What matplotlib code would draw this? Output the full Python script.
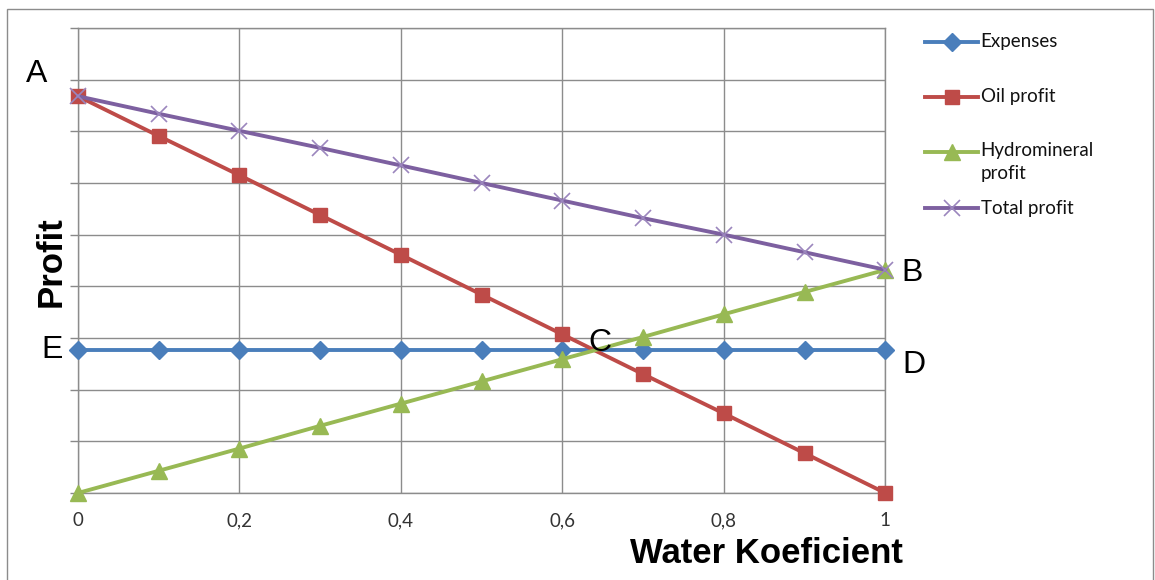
import matplotlib.pyplot as plt
from matplotlib.lines import Line2D
from matplotlib.patches import Rectangle

# water coefficient steps
water_k = [0, 0.1, 0.2, 0.3, 0.4, 0.5, 0.6, 0.7, 0.8, 0.9, 1.0]

# profit values (grid units)
expenses = [2.77] * 11
oil_profit = [7.68, 6.91, 6.15, 5.38, 4.61, 3.84, 3.07, 2.30, 1.54, 0.77, 0.0]
hydro_profit = [0.0, 0.43, 0.86, 1.30, 1.73, 2.16, 2.59, 3.02, 3.46, 3.89, 4.32]
total_profit = [7.68, 7.34, 7.01, 6.68, 6.34, 6.00, 5.66, 5.32, 5.00, 4.66, 4.32]

x_ticks = [0, 0.2, 0.4, 0.6, 0.8, 1.0]
x_tick_labels = ['0', '0,2', '0,4', '0,6', '0,8', '1']

series = [
    ('Expenses', expenses, '#4a7ebb', 'D', 9),
    ('Oil profit', oil_profit, '#be4b48', 's', 10),
    ('Hydromineral\nprofit', hydro_profit, '#98b954', '^', 11),
    ('Total profit', total_profit, '#7d60a0', 'x', 11),
]

# point labels
point_names = ['A', 'B', 'C', 'D', 'E']
point_x = [-0.051, 1.033, 0.646, 1.035, -0.032]
point_y = [8.11, 4.26, 2.9, 2.48, 2.77]

fig = plt.figure(figsize=(11.55, 5.8), dpi=100)
ax = fig.add_axes([0.0675, 0.15, 0.699, 0.8017])

for name, vals, color, marker, ms in series:
    if marker == 'x':
        ax.plot(water_k, vals, color=color, lw=2.8, marker=marker, ms=ms,
                mew=1.2, mec='#9b86bd', zorder=3, clip_on=False)
    else:
        ax.plot(water_k, vals, color=color, lw=2.8, marker=marker, ms=ms,
                mec=color, zorder=3, clip_on=False)

ax.set_xlim(0, 1)
ax.set_ylim(0, 9)
ax.set_xticks(x_ticks)
ax.set_xticklabels(x_tick_labels, fontsize=13.5, family='Lato', color='#333333')
ax.set_yticks(range(10))
ax.set_yticklabels([])
ax.tick_params(axis='x', length=0, pad=14)
ax.tick_params(axis='y', length=6, color='#888888', width=1)
ax.grid(True, color='#8c8c8c', lw=1)
ax.set_axisbelow(True)
for s in ax.spines.values():
    s.set_color('#8c8c8c')
    s.set_linewidth(1)

ax.set_xlabel('Water Koeficient', fontsize=25, fontweight='bold',
              family='Liberation Sans')
ax.xaxis.set_label_coords(1.022, -0.095)
ax.xaxis.label.set_ha('right')
ax.set_ylabel('Profit', fontsize=25, fontweight='bold', family='Liberation Sans')
ax.yaxis.set_label_coords(-0.013, 0.497)

for t, px, py in zip(point_names, point_x, point_y):
    ax.text(px, py, t, fontsize=23, family='Liberation Sans', ha='center',
            va='center', clip_on=False)

# legend, drawn by hand to mimic the spreadsheet layout
leg_y = [0.928, 0.833, 0.738, 0.641]
for (name, vals, color, marker, ms), ly in zip(series, leg_y):
    mec = '#9b86bd' if marker == 'x' else color
    fig.add_artist(Line2D([0.801, 0.847], [ly, ly], color=color, lw=2.8,
                          transform=fig.transFigure))
    fig.add_artist(Line2D([0.824], [ly], color=color, marker=marker, ms=ms,
                          mec=mec, mew=1.2 if marker == 'x' else 1,
                          transform=fig.transFigure))
    if '\n' in name:
        fig.text(0.849, ly + 0.017, name, fontsize=13.5, family='Lato',
                 va='top', linespacing=1.45, color='#111111')
    else:
        fig.text(0.849, ly, name, fontsize=13.5, family='Lato', va='center',
                 color='#111111')

# outer frame
fig.add_artist(Rectangle((0.006, -0.01), 0.992, 0.995, fill=False,
                         ec='#8c8c8c', lw=1, transform=fig.transFigure))

fig.savefig('out.png', dpi=100)
